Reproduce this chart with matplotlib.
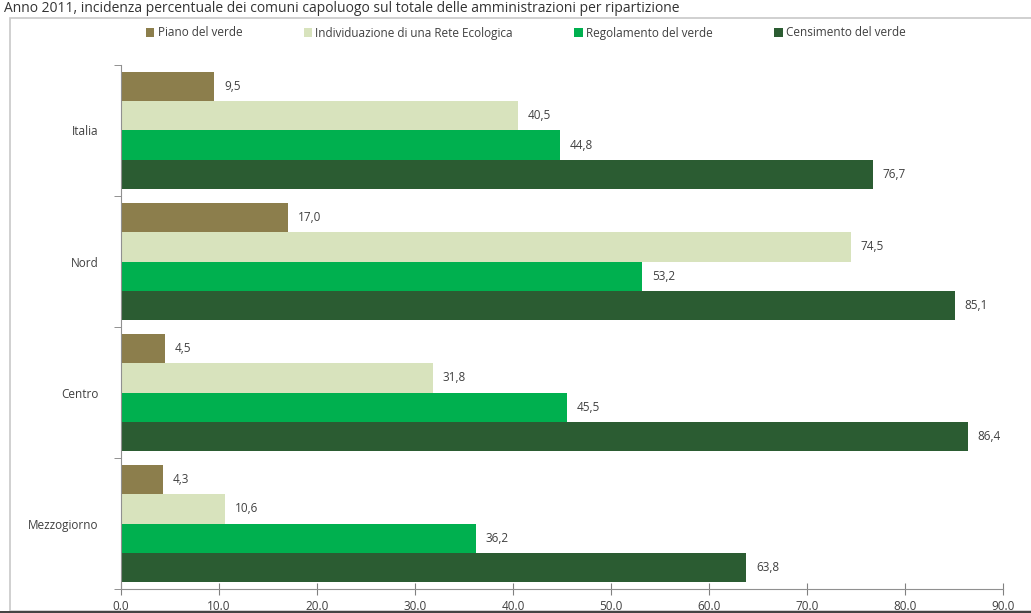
import matplotlib
matplotlib.use('Agg')
import matplotlib.pyplot as plt
import numpy as np
from matplotlib.patches import Rectangle

# data
regions = ['Italia', 'Nord', 'Centro', 'Mezzogiorno']
series = ['Piano del verde', 'Individuazione di una Rete Ecologica',
          'Regolamento del verde', 'Censimento del verde']
piano = [9.5, 17.0, 4.5, 4.3]
rete = [40.5, 74.5, 31.8, 10.6]
regolamento = [44.8, 53.2, 45.5, 36.2]
censimento = [76.7, 85.1, 86.4, 63.8]
xticks = [0, 10, 20, 30, 40, 50, 60, 70, 80, 90]

colors = ['#8c7e4c', '#d8e3bd', '#00b04f', '#2b5c32']
values = [piano, rete, regolamento, censimento]

plt.rcParams['font.family'] = ['Open Sans', 'DejaVu Sans']

fig = plt.figure(figsize=(10.31, 6.13), dpi=100)
ax = fig.add_axes([0.1174, 0.039, 0.8554, 0.855])

# frame around the chart area
fig.patches.append(Rectangle((10/1031, 0.004), 1.2, 1 - 18/613 - 0.004,
                             transform=fig.transFigure, fill=False,
                             edgecolor='#c8c8c8', linewidth=1.2))
fig.patches.append(Rectangle((0, 0), 1, 0.004, transform=fig.transFigure,
                             facecolor='#444444', edgecolor='none'))

# title line at the top edge
fig.text(0.004, 0.999, 'Anno 2011, incidenza percentuale dei comuni capoluogo sul totale delle amministrazioni per ripartizione',
         ha='left', va='top', fontsize=10, color='#333333')

bh = 0.223
y = np.arange(len(regions))
for i, (vals, c, name) in enumerate(zip(values, colors, series)):
    pos = y - 1.5 * bh + i * bh
    ax.barh(pos, vals, height=bh, color=c, label=name, edgecolor='none')
    for p, v in zip(pos, vals):
        ax.text(v + 1.0, p, ('%.1f' % v).replace('.', ','), va='center', ha='left',
                fontsize=8.5, color='#404040')

ax.set_ylim(3.5, -0.5)
ax.set_xlim(0, 90)
ax.set_yticks(y)
ax.set_yticklabels(regions, fontsize=8.5, color='#404040')
ax.set_yticks(np.arange(-0.5, 4, 1), minor=True)
ax.tick_params(axis='y', which='major', length=0, pad=16)
ax.tick_params(axis='y', which='minor', length=5, color='#808080')
ax.set_xticks(xticks)
ax.set_xticklabels(['%.1f' % t for t in xticks], fontsize=8.5, color='#404040')
ax.tick_params(axis='x', direction='inout', length=8, color='#808080', pad=4)
for s in ['top', 'right']:
    ax.spines[s].set_visible(False)
for s in ['left', 'bottom']:
    ax.spines[s].set_color('#909090')

fig.legend(loc='center', bbox_to_anchor=(0.51, 1 - 33/613), ncol=4, frameon=False,
           fontsize=8.5, handlelength=0.7, handleheight=0.7, handletextpad=0.3,
           columnspacing=5.2, labelcolor='#404040')

fig.savefig('out.png', dpi=100)
